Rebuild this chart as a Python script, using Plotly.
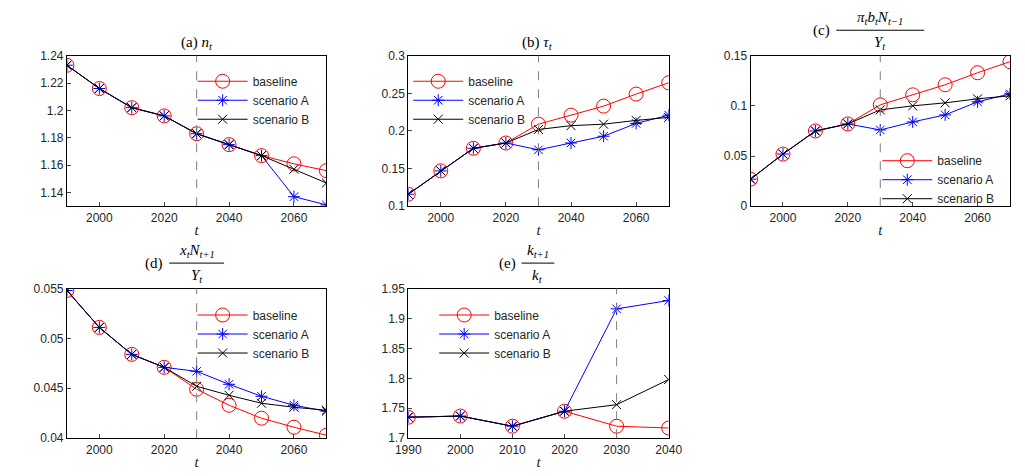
import plotly.graph_objects as go
from plotly.subplots import make_subplots

years = [1990, 2000, 2010, 2020, 2030, 2040, 2050, 2060, 2070]
years_e = [1990, 2000, 2010, 2020, 2030, 2040]

n_base = [1.233, 1.216, 1.202, 1.196, 1.183, 1.175, 1.167, 1.161, 1.156]
n_A = [1.233, 1.216, 1.202, 1.196, 1.183, 1.175, 1.167, 1.137, 1.131]
n_B = [1.233, 1.216, 1.202, 1.196, 1.183, 1.175, 1.167, 1.157, 1.147]

tau_base = [0.116, 0.147, 0.177, 0.184, 0.209, 0.221, 0.233, 0.249, 0.264]
tau_A = [0.116, 0.147, 0.177, 0.184, 0.175, 0.184, 0.193, 0.210, 0.221]
tau_B = [0.116, 0.147, 0.177, 0.184, 0.202, 0.207, 0.209, 0.214, 0.218]

c_base = [0.027, 0.052, 0.075, 0.082, 0.101, 0.111, 0.121, 0.133, 0.144]
c_A = [0.027, 0.052, 0.075, 0.082, 0.076, 0.084, 0.091, 0.104, 0.112]
c_B = [0.027, 0.052, 0.075, 0.082, 0.096, 0.100, 0.103, 0.107, 0.110]

d_base = [0.0548, 0.0511, 0.0484, 0.0471, 0.0449, 0.0433, 0.0420, 0.0411, 0.0403]
d_A = [0.0548, 0.0511, 0.0484, 0.0471, 0.0467, 0.0454, 0.0442, 0.0433, 0.0427]
d_B = [0.0548, 0.0511, 0.0484, 0.0471, 0.0452, 0.0443, 0.0435, 0.0431, 0.0428]

k_base = [1.735, 1.737, 1.720, 1.745, 1.720, 1.717]
k_A = [1.735, 1.737, 1.720, 1.745, 1.916, 1.930]
k_B = [1.735, 1.737, 1.720, 1.745, 1.756, 1.798]

long_ticks = [2000, 2020, 2040, 2060]

panels = [
    (1, 1, years, n_base, n_A, n_B, [1.13, 1.24], 0.02, [1990, 2070], long_ticks, (0.172, 0.888)),
    (1, 2, years, tau_base, tau_A, tau_B, [0.1, 0.3], 0.05, [1990, 2070], long_ticks, (0.388, 0.888)),
    (1, 3, years, c_base, c_A, c_B, [0, 0.15], 0.05, [1990, 2070], long_ticks, (0.858, 0.716)),
    (2, 1, years, d_base, d_A, d_B, [0.04, 0.055], 0.005, [1990, 2070], long_ticks, (0.172, 0.382)),
    (2, 2, years_e, k_base, k_A, k_B, [1.7, 1.95], 0.05, [1990, 2040], years_e, (0.414, 0.382)),
]

xdoms = [[0.046, 0.306], [0.388, 0.649], [0.731, 0.991]]
ydoms = {1: [0.586, 0.912], 2: [0.084, 0.408]}

fig = make_subplots(rows=2, cols=3)
styles = [("baseline", "red", "circle-open", 14),
          ("scenario A", "blue", "asterisk-open", 10),
          ("scenario B", "black", "x-thin-open", 9)]

for i, (r, c, xs, b, a, s, yr, dt, xr, tv, lpos) in enumerate(panels):
    lg = "legend" if i == 0 else "legend%d" % (i + 1)
    for (name, col, sym, sz), ys in zip(styles, [b, a, s]):
        fig.add_trace(go.Scatter(x=xs, y=ys, name=name, mode="lines+markers",
                                 line=dict(color=col, width=1),
                                 marker=dict(symbol=sym, size=sz, color=col, line=dict(width=1, color=col)),
                                 legend=lg), row=r, col=c)
    fig.update_xaxes(range=xr, tickvals=tv, domain=xdoms[c - 1], row=r, col=c)
    fig.update_yaxes(range=yr, dtick=dt, domain=ydoms[r], row=r, col=c)
    fig.add_vline(x=2030, line=dict(color="gray", width=1, dash="dash"), row=r, col=c)
    fig.update_layout({lg: dict(x=lpos[0], y=lpos[1], xanchor="left", yanchor="top",
                                bgcolor="rgba(255,255,255,0)", font=dict(size=12, family="Liberation Sans"),
                                tracegroupgap=0, itemwidth=50)})

fig.update_xaxes(showline=True, mirror=True, linecolor="black", linewidth=1, ticks="inside",
                 ticklen=4, showgrid=False, zeroline=False,
                 title=dict(text="<i>t</i>", font=dict(family="Liberation Serif", size=15), standoff=0))
fig.update_yaxes(showline=True, mirror=True, linecolor="black", linewidth=1, ticks="inside",
                 ticklen=4, showgrid=False, zeroline=False)

tfont = dict(family="Liberation Serif", size=15, color="black")
titles = [
    (0.176, 0.915, "(a) <i>n<sub>t</sub></i>"),
    (0.518, 0.915, "(b) <i>τ<sub>t</sub></i>"),
]
for x, y, t in titles:
    fig.add_annotation(x=x, y=y, xref="paper", yref="paper", text=t, showarrow=False,
                       xanchor="center", yanchor="bottom", font=tfont)

fracs = [
    (0.861, 0.915, "(c)", "<i>π<sub>t</sub>b<sub>t</sub>N<sub>t−1</sub></i>", "<i>Y<sub>t</sub></i>", 0.088),
    (0.176, 0.411, "(d)", "<i>x<sub>t</sub>N<sub>t+1</sub></i>", "<i>Y<sub>t</sub></i>", 0.055),
    (0.518, 0.411, "(e)", "<i>k<sub>t+1</sub></i>", "<i>k<sub>t</sub></i>", 0.033),
]
for x, y, lab, num, den, w in fracs:
    mid = y + 0.052
    fig.add_annotation(x=x - w / 2 - 0.004, y=mid, xref="paper", yref="paper", text=lab,
                       showarrow=False, xanchor="right", yanchor="middle", font=tfont)
    fig.add_annotation(x=x, y=mid + 0.002, xref="paper", yref="paper", text=num,
                       showarrow=False, xanchor="center", yanchor="bottom", font=tfont)
    fig.add_annotation(x=x, y=mid - 0.004, xref="paper", yref="paper", text=den,
                       showarrow=False, xanchor="center", yanchor="top", font=tfont)
    fig.add_shape(type="line", xref="paper", yref="paper", x0=x - w / 2, x1=x + w / 2,
                  y0=mid, y1=mid, line=dict(color="black", width=1))

fig.update_layout(width=1025, height=476, margin=dict(l=0, r=0, t=0, b=0),
                  plot_bgcolor="white", paper_bgcolor="white",
                  font=dict(family="Liberation Sans", size=12, color="#262626"))
fig.write_html("out.html")
